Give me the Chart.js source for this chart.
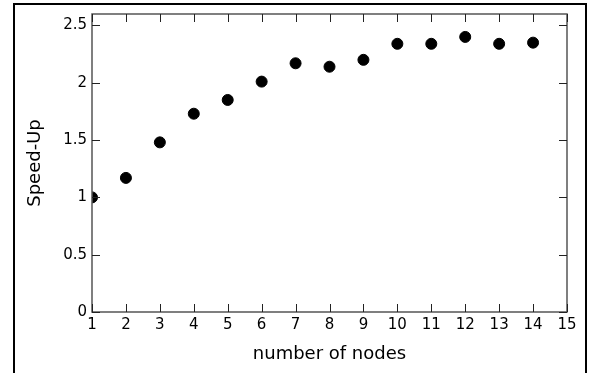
<!DOCTYPE html>
<html>
<head>
<meta charset="utf-8">
<script src="https://cdn.jsdelivr.net/npm/chart.js@4/dist/chart.umd.min.js"></script>
<style>
  html, body { margin: 0; padding: 0; background: #fff; }
  #speedupChart { display: block; }
</style>
</head>
<body>
<canvas id="speedupChart" width="595" height="373"></canvas>
<script>
const nodes = [1, 2, 3, 4, 5, 6, 7, 8, 9, 10, 11, 12, 13, 14];
const speedUp = [1.00, 1.17, 1.48, 1.73, 1.85, 2.01, 2.17, 2.14, 2.20, 2.34, 2.34, 2.40, 2.34, 2.35];
const xTicks = [1, 2, 3, 4, 5, 6, 7, 8, 9, 10, 11, 12, 13, 14, 15];
const yTicks = [0, 0.5, 1, 1.5, 2, 2.5];

const font = "'DejaVu Sans', sans-serif";
const axisColor = '#555';

// matplotlib-like frame: inward ticks on all four sides, plus outer figure box
const framePlugin = {
    id: 'frame',
    beforeDraw(chart) {
        const ctx = chart.ctx;
        ctx.save();
        ctx.strokeStyle = '#000';
        ctx.lineWidth = 2;
        ctx.beginPath();
        ctx.moveTo(14, 380);
        ctx.lineTo(14, 4);
        ctx.lineTo(586, 4);
        ctx.lineTo(586, 380);
        ctx.stroke();
        ctx.restore();
    },
    afterDraw(chart) {
        const ctx = chart.ctx;
        const area = chart.chartArea;
        const xs = chart.scales.x;
        const ys = chart.scales.y;
        const len = 8;
        ctx.save();
        ctx.strokeStyle = axisColor;
        ctx.lineWidth = 1.5;
        ctx.strokeRect(area.left, area.top, area.right - area.left, area.bottom - area.top);
        ctx.strokeStyle = '#222';
        ctx.lineWidth = 1;
        ctx.beginPath();
        xTicks.forEach(v => {
            const px = Math.round(xs.getPixelForValue(v)) + 0.5;
            ctx.moveTo(px, area.bottom);
            ctx.lineTo(px, area.bottom - len);
            ctx.moveTo(px, area.top);
            ctx.lineTo(px, area.top + len);
        });
        yTicks.forEach(v => {
            const py = Math.round(ys.getPixelForValue(v)) + 0.5;
            ctx.moveTo(area.left, py);
            ctx.lineTo(area.left + len, py);
            ctx.moveTo(area.right, py);
            ctx.lineTo(area.right - len, py);
        });
        ctx.stroke();
        ctx.restore();
    }
};

new Chart(document.getElementById('speedupChart'), {
    type: 'scatter',
    data: {
        datasets: [{
            label: 'Speed-Up',
            data: nodes.map((n, i) => ({ x: n, y: speedUp[i] })),
            backgroundColor: '#000',
            borderColor: '#000',
            pointRadius: 5.5,
            pointHoverRadius: 5.5
        }]
    },
    options: {
        responsive: false,
        animation: false,
        layout: { padding: { left: 0, top: 13, right: 28, bottom: 0 } },
        plugins: {
            legend: { display: false },
            tooltip: { enabled: false }
        },
        scales: {
            x: {
                type: 'linear',
                min: 1,
                max: 15,
                afterBuildTicks: s => { s.ticks = xTicks.map(v => ({ value: v })); },
                afterFit: s => { s.height = 61; },
                grid: { display: false, drawTicks: false },
                border: { display: false },
                ticks: {
                    color: '#000',
                    padding: 4,
                    maxRotation: 0,
                    autoSkip: false,
                    font: { family: font, size: 15 }
                },
                title: {
                    display: true,
                    text: 'number of nodes',
                    color: '#000',
                    font: { family: font, size: 18 },
                    padding: { top: 0, bottom: 8 }
                }
            },
            y: {
                min: 0,
                max: 2.6,
                afterBuildTicks: s => { s.ticks = yTicks.map(v => ({ value: v })); },
                afterFit: s => { s.width = 92; },
                grid: { display: false, drawTicks: false },
                border: { display: false },
                ticks: {
                    color: '#000',
                    padding: 5,
                    autoSkip: false,
                    font: { family: font, size: 15 },
                    callback: v => String(v)
                },
                title: {
                    display: true,
                    text: 'Speed-Up',
                    color: '#000',
                    font: { family: font, size: 18 },
                    padding: { top: 25, bottom: 0 }
                }
            }
        }
    },
    plugins: [framePlugin]
});
</script>
</body>
</html>
